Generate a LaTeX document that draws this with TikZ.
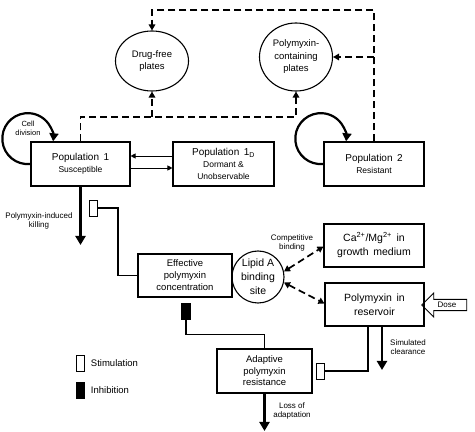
\documentclass[tikz,border=0pt]{standalone}
\usepackage{fontspec}
\setmainfont{Liberation Sans}
\usetikzlibrary{arrows.meta,positioning,shapes.geometric,shapes.arrows}

\newcommand{\subsize}{\fontsize{8.5}{10}\selectfont}

\begin{document}
\begin{tikzpicture}[
  x=1pt, y=1pt,
  box/.style={
    draw,
    rectangle,
    line width=1.1pt,
    align=center,
    inner sep=1pt,
    font=\fontsize{10}{12}\selectfont
  },
  plate/.style={
    draw,
    ellipse,
    line width=1.1pt,
    align=center,
    inner sep=0pt,
    font=\fontsize{9.5}{12.5}\selectfont
  },
  marker/.style={
    draw,
    rectangle,
    line width=0.9pt,
    minimum width=8pt,
    minimum height=16pt,
    inner sep=0pt
  },
  stim/.style={marker, fill=white},
  inhib/.style={marker, fill=black},
  note/.style={
    align=center,
    inner sep=1pt,
    font=\fontsize{8}{9.5}\selectfont
  },
  flow/.style={
    -{Triangle[length=5pt,width=5pt]},
    line width=0.7pt
  },
  dflow/.style={
    -{Triangle[length=6pt,width=6.5pt]},
    line width=1.7pt,
    dash pattern=on 7pt off 4pt
  },
  heavy/.style={
    -{Triangle[length=9pt,width=10pt]},
    line width=2.6pt
  },
  loopy/.style={
    -{Triangle[length=8pt,width=9pt]},
    line width=2.2pt
  },
  link/.style={
    line width=1.8pt
  }
]

\path[use as bounding box] (0,0) rectangle (475,432);

% populations
\node[box, minimum width=99pt, minimum height=44pt] (pop1) at (80.5,268)
  {Population\, 1\\\subsize Susceptible};
\node[box, minimum width=101pt, minimum height=44pt] (pop1d) at (223.5,268)
  {Population\, 1\textsubscript{D}\\\subsize Dormant \&\\\subsize Unobservable};
\node[box, minimum width=100pt, minimum height=44pt] (pop2) at (374,268)
  {Population\, 2\\\subsize Resistant};

% plates
\node[plate, minimum width=73pt, minimum height=60pt] (drugfree) at (152,371)
  {Drug-free\\plates};
\node[plate, minimum width=73pt, minimum height=68pt] (polyplates) at (296,375)
  {Polymyxin-\\containing\\plates};

% drug
\node[box, minimum width=94pt, minimum height=43pt,
  font=\fontsize{9.5}{12}\selectfont] (effconc) at (185,156.5)
  {Effective\\polymyxin\\concentration};
\node[draw, circle, line width=1.1pt, minimum size=52pt, inner sep=0pt,
  align=center, font=\fontsize{10.5}{14}\selectfont] (lipid) at (258,155)
  {Lipid A\\binding\\site};
\node[box, minimum width=100pt, minimum height=43pt,
  font=\fontsize{10.5}{14}\selectfont] (ca) at (374,186.5)
  {Ca\textsuperscript{2+}/Mg\textsuperscript{2+}\, in\\growth\, medium};
\node[box, minimum width=99pt, minimum height=43pt,
  font=\fontsize{10.5}{14}\selectfont] (reservoir) at (374.5,127.5)
  {Polymyxin\, in\\reservoir};
\node[box, minimum width=95pt, minimum height=44pt,
  font=\fontsize{9.5}{11.5}\selectfont] (adaptive) at (264.5,61)
  {Adaptive\\polymyxin\\resistance};
\node[draw, single arrow, shape border rotate=180, line width=0.9pt,
  minimum height=45pt, minimum width=24pt, single arrow head extend=6pt,
  inner sep=2pt, font=\fontsize{8}{9}\selectfont] (dose) at (447,127) {Dose};

% markers
\node[stim] (stim1) at (93.5,224) {};
\node[stim] (stim2) at (320,61) {};
\node[inhib, minimum width=9pt] (inhib1) at (186,121) {};

% legend
\node[stim] (legstim) at (80,69) {};
\node[inhib] (leginhib) at (80,42) {};
\node[anchor=west, font=\fontsize{9.5}{11}\selectfont] at ([xshift=3pt]legstim.east) {Stimulation};
\node[anchor=west, font=\fontsize{9.5}{11}\selectfont] at ([xshift=3pt]leginhib.east) {Inhibition};

% transitions between populations
\draw[flow] ([yshift=8pt]pop1d.west) -- ([yshift=8pt]pop1.east);
\draw[flow] ([yshift=-4pt]pop1.east) -- ([yshift=-4pt]pop1d.west);

\draw[loopy] (pop1.west) arc[start angle=276, end angle=-6, radius=25.5];
\draw[loopy] (pop2.west) arc[start angle=276, end angle=-6, radius=25.5];
\node[note, font=\fontsize{7.5}{9}\selectfont] at (28,304) {Cell\\division};

% plating
\coordinate (topr) at (374,422);
\coordinate (topl) at (152,422);
\coordinate (midl) at (80.5,315);
\draw[dflow] (pop2.north) -- (topr) -- (topl) -- (drugfree.north);
\draw[dflow] (topr |- polyplates.east) -- (polyplates.east);
\draw[dflow] (pop1.north) -- (midl) -- (polyplates.south |- midl) -- (polyplates.south);
\draw[dflow] (drugfree.south |- midl) -- (drugfree.south);

% killing
\coordinate (kill) at (80.5,187);
\draw[heavy] (pop1.south) -- (kill);
\node[note] at (39,211) {Polymyxin-induced\\killing};
\draw[link] (stim1.east) -- ++(20,0) |- (effconc.west);

% binding
\draw[dflow, {Triangle[length=6pt,width=6.5pt]}-{Triangle[length=6pt,width=6.5pt]}]
  (lipid.12) -- ([yshift=-1pt]ca.west);
\draw[dflow, {Triangle[length=6pt,width=6.5pt]}-{Triangle[length=6pt,width=6.5pt]}]
  (lipid.-12) -- ([yshift=1pt]reservoir.west);
\node[note] at (292,189) {Competitive\\binding};

% clearance
\coordinate (clear) at (382,62);
\draw[heavy] (reservoir.south -| clear) -- (clear);
\node[note] at (408,85) {Simulated\\clearance};
\draw[link] ([xshift=-6.5pt]reservoir.south) |- (stim2.east);

% adaptation
\draw[link] (inhib1.south) -- ++(0,-15) -| (adaptive.north);
\coordinate (loss) at (264.5,1);
\draw[heavy] (adaptive.south) -- (loss);
\node[note] at (292,21) {Loss of\\adaptation};

\end{tikzpicture}
\end{document}
